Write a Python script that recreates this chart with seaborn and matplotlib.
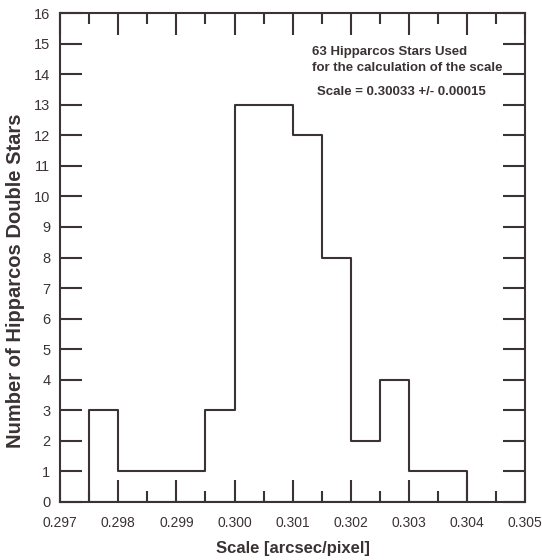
import numpy as np
import pandas as pd
import matplotlib
matplotlib.use("Agg")
import matplotlib.pyplot as plt
import seaborn as sns
from matplotlib.ticker import MultipleLocator

bin_edges = [0.2975, 0.2980, 0.2985, 0.2990, 0.2995, 0.3000, 0.3005,
             0.3010, 0.3015, 0.3020, 0.3025, 0.3030, 0.3035, 0.3040]
counts = [3, 1, 1, 1, 3, 13, 13, 12, 8, 2, 4, 1, 1]
x_ticks = [0.297, 0.298, 0.299, 0.300, 0.301, 0.302, 0.303, 0.304, 0.305]
y_ticks = list(range(0, 17))

centers = [(bin_edges[i] + bin_edges[i + 1]) / 2 for i in range(len(counts))]
df = pd.DataFrame({"scale": centers, "n": counts})

sns.set_style("ticks")
plt.rcParams['font.family'] = ['Liberation Sans', 'DejaVu Sans']
col = "#3b3333"

fig = plt.figure(figsize=(5.42, 5.60), dpi=100)
ax = fig.add_axes([0.111, 0.1036, 0.858, 0.873])

sns.histplot(data=df, x="scale", weights="n", bins=bin_edges, element="step",
             fill=True, color=col, linewidth=1.5, ax=ax)
for coll in ax.collections:
    coll.set_facecolor("none")
    coll.set_edgecolor(col)
    coll.set_linewidth(1.5)
    coll.set_alpha(1)

ax.set_xlim(0.297, 0.305)
ax.set_ylim(0, 16)
ax.set_xticks(x_ticks)
ax.set_xticklabels([f"{v:.3f}" for v in x_ticks], fontsize=10, color=col)
ax.xaxis.set_minor_locator(MultipleLocator(0.0005))
ax.set_yticks(y_ticks)
ax.set_yticklabels([str(v) for v in y_ticks], fontsize=10.5, color=col)

ax.tick_params(axis="both", which="major", direction="in", length=16, width=1.5,
               color=col, top=True, right=True)
ax.tick_params(axis="x", which="major", pad=10)
ax.tick_params(axis="y", which="major", pad=7)
ax.tick_params(axis="x", which="minor", direction="in", length=8, width=1.5,
               color=col, top=True, bottom=True)
for s in ax.spines.values():
    s.set_color(col)
    s.set_linewidth(1.5)

ax.set_xlabel("Scale [arcsec/pixel]", fontsize=12, fontweight="bold", color=col, labelpad=8)
ax.set_ylabel("Number of Hipparcos Double Stars", fontsize=14.5, fontweight="bold", color=col)
ax.yaxis.set_label_coords(-0.075, 0.452)

ax.text(0.30134, 14.72, "63 Hipparcos Stars Used", fontsize=9.5, fontweight="bold",
        color=col, va="center", ha="left")
ax.text(0.30134, 14.2, "for the calculation of the scale", fontsize=9.5, fontweight="bold",
        color=col, va="center", ha="left")
ax.text(0.30141, 13.42, "Scale = 0.30033 +/- 0.00015",
        fontsize=9.5, fontweight="bold", color=col, va="center", ha="left")

fig.savefig("out.png", dpi=100)
